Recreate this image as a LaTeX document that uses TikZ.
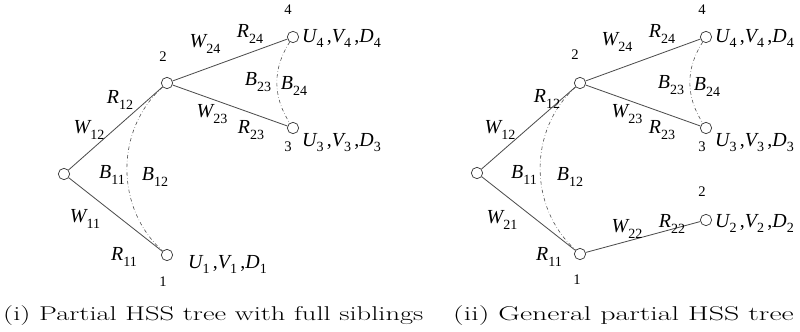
\documentclass[tikz,border=0pt]{standalone}
\usepackage{graphicx}
\usepackage{fontspec}
\newfontfamily\tms{Liberation Serif}
\newcommand{\sym}[2]{{\itshape #1}\raisebox{-0.6ex}{\fontsize{12}{12}\selectfont #2}}
\newcommand{\uvd}[1]{\sym{U}{#1}\,,\sym{V}{#1}\,,\sym{D}{#1}}
\newcommand{\wide}[2]{\scalebox{#1}[1]{#2}}

\begin{document}
\begin{tikzpicture}[x=0.03cm,y=-0.03cm,
  vtx/.style={draw,circle,inner sep=0pt,minimum size=0.34cm,line width=0.6pt,black!80},
  br/.style={line width=0.7pt,black!70},
  sib/.style={dash dot,line width=0.5pt,black!70},
  lab/.style={font=\tms\fontsize{17}{17}\selectfont,inner sep=0pt},
  num/.style={font=\tms\fontsize{12.5}{12.5}\selectfont,inner sep=0pt},
  captext/.style={font=\fontsize{17}{20}\selectfont,inner sep=0pt,anchor=base west}]
  \useasboundingbox (0,0) rectangle (800,332);
  % (i) tree with full siblings
  \node[vtx] (a0) at (64,174) {};
  \node[vtx] (a1) at (167,255) {};
  \node[vtx] (a2) at (167,83) {};
  \node[vtx] (a3) at (293,128) {};
  \node[vtx] (a4) at (293,37) {};
  \draw[br] (a0) -- (a2) (a0) -- (a1) (a2) -- (a4) (a2) -- (a3);
  \draw[sib] (a2) to[bend right=48] (a1);
  \draw[sib] (a4) to[bend right=33] (a3);
  \foreach \n/\x/\y in {1/163/282,2/163/57,3/288/147,4/288/10}
    \node[num] (an\n) at (\x,\y) {\n};
  \node[lab] (aW24) at (205,44) {\sym{W}{24}};
  \node[lab] (aR24) at (250,34) {\sym{R}{24}};
  \node[lab] (aB23) at (258,82) {\sym{B}{23}};
  \node[lab] (aB24) at (294,86) {\sym{B}{24}};
  \node[lab] (aW23) at (212,114) {\sym{W}{23}};
  \node[lab] (aR23) at (251,130) {\sym{R}{23}};
  \node[lab] (aR12) at (120,100) {\sym{R}{12}};
  \node[lab] (aW12) at (89,130) {\sym{W}{12}};
  \node[lab] (aB11) at (112,175) {\sym{B}{11}};
  \node[lab] (aB12) at (155,177) {\sym{B}{12}};
  \node[lab] (aW11) at (85,219) {\sym{W}{11}};
  \node[lab] (aR11) at (124,257) {\sym{R}{11}};
  \node[lab,anchor=base west] (aU4) at (302,42) {\uvd{4}};
  \node[lab,anchor=base west] (aU3) at (302,146) {\uvd{3}};
  \node[lab,anchor=base west] (aU1) at (188,268) {\uvd{1}};
  % (ii) general tree
  \node[vtx] (b0) at (477,173) {};
  \node[vtx] (b1) at (580,254) {};
  \node[vtx] (b2) at (580,83) {};
  \node[vtx] (b3) at (706,128) {};
  \node[vtx] (b4) at (706,37) {};
  \node[vtx] (b5) at (706,220) {};
  \draw[br] (b0) -- (b2) (b0) -- (b1) (b2) -- (b4) (b2) -- (b3) (b1) -- (b5);
  \draw[sib] (b2) to[bend right=48] (b1);
  \draw[sib] (b4) to[bend right=33] (b3);
  \foreach \n/\t/\x/\y in {1/1/577/280,2/2/575/55,3/3/702/147,4/4/702/10,5/2/702/192}
    \node[num] (bn\n) at (\x,\y) {\t};
  \node[lab] (bW24) at (617,42) {\sym{W}{24}};
  \node[lab] (bR24) at (662,34) {\sym{R}{24}};
  \node[lab] (bB23) at (671,85) {\sym{B}{23}};
  \node[lab] (bB24) at (707,87) {\sym{B}{24}};
  \node[lab] (bR12) at (547,99) {\sym{R}{12}};
  \node[lab] (bW23) at (627,114) {\sym{W}{23}};
  \node[lab] (bR23) at (662,130) {\sym{R}{23}};
  \node[lab] (bW12) at (500,130) {\sym{W}{12}};
  \node[lab] (bB11) at (524,175) {\sym{B}{11}};
  \node[lab] (bB12) at (570,177) {\sym{B}{12}};
  \node[lab] (bW21) at (502,220) {\sym{W}{21}};
  \node[lab] (bR11) at (549,257) {\sym{R}{11}};
  \node[lab] (bW22) at (627,229) {\sym{W}{22}};
  \node[lab] (bR22) at (672,224) {\sym{R}{22}};
  \node[lab,anchor=base west] (bU4) at (715,42) {\uvd{4}};
  \node[lab,anchor=base west] (bU3) at (715,146) {\uvd{3}};
  \node[lab,anchor=base west] (bU2) at (715,227) {\uvd{2}};
  % captions
  \node[captext] (capa) at (3,320) {\wide{1.43}{(i) Partial HSS tree with full siblings}};
  \node[captext] (capb) at (453,320) {\wide{1.5}{(ii) General partial HSS tree}};
\end{tikzpicture}
\end{document}
